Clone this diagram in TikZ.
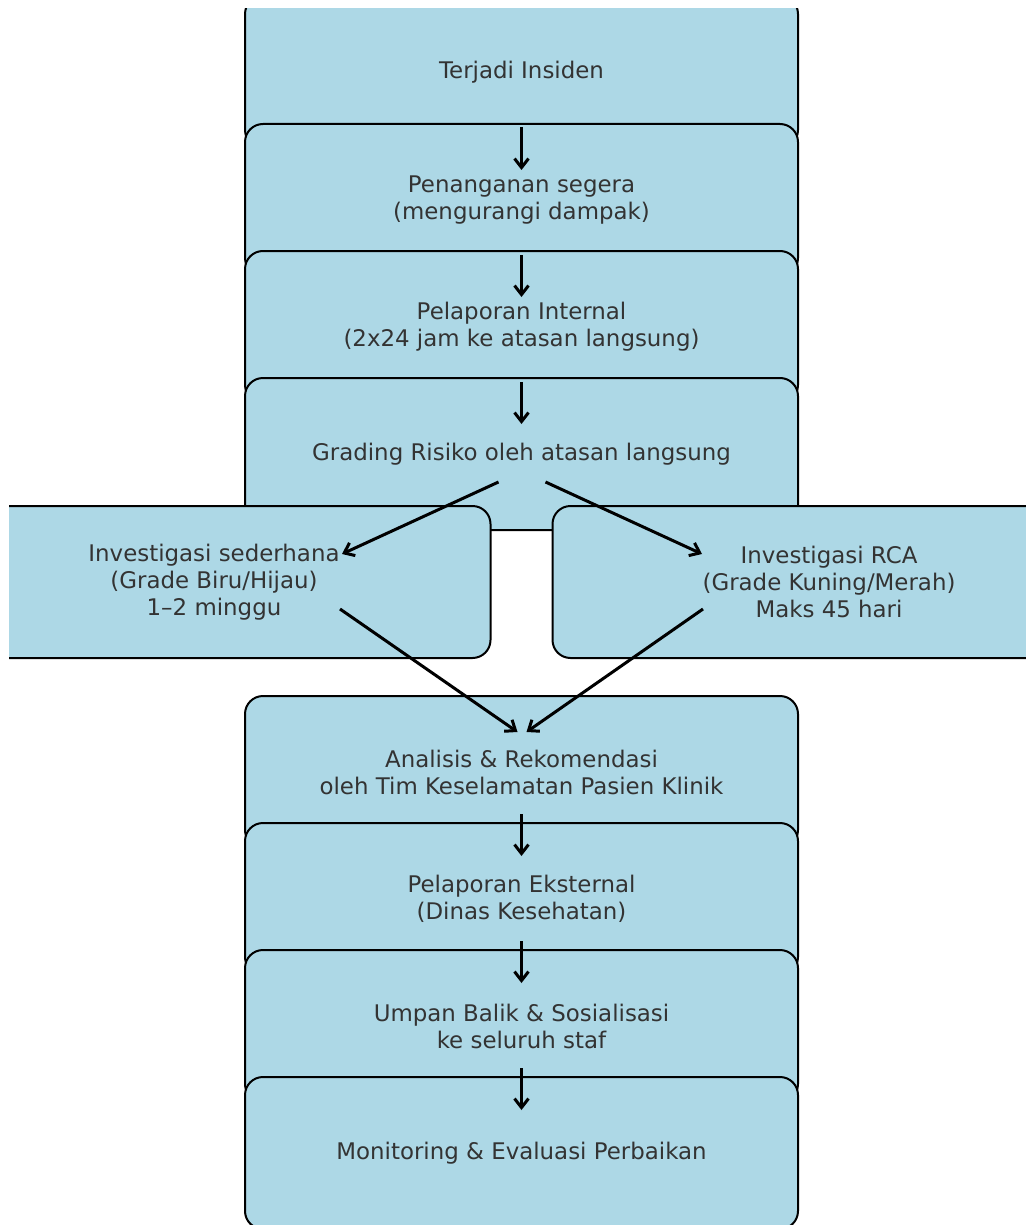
\documentclass[tikz,border=0pt]{standalone}
\usepackage{fontspec}
\setmainfont{DejaVu Sans}
\usetikzlibrary{arrows.meta}
\definecolor{lb}{HTML}{ADD8E6}
\definecolor{tx}{HTML}{333333}
\tikzset{
  box/.style={draw=black, line width=2pt, fill=lb, rounded corners=18pt,
    minimum width=553pt, minimum height=152pt, inner sep=0pt, align=center,
    text=tx, font=\fontsize{22.9}{27}\selectfont},
  arr/.style={draw=black, line width=3pt,
    -{Straight Barb[length=9pt,width=14pt,line width=3pt]}}
}
\begin{document}
\begin{tikzpicture}[x=1pt,y=-1pt]
\useasboundingbox (0,0) rectangle (1025,1225);
\begin{scope}
\clip (9,9) rectangle (1030,1230);
\node[box] (n1) at (521.5,72) {Terjadi Insiden};
\node[box] (n2) at (521.5,200) {Penanganan segera\\(mengurangi dampak)};
\node[box] (n3) at (521.5,327) {Pelaporan Internal\\(2x24 jam ke atasan langsung)};
\node[box] (n4) at (521.5,454) {Grading Risiko oleh atasan langsung};
\node[box] (l) at (214,582) {Investigasi sederhana\\(Grade Biru/Hijau)\\1–2 minggu};
\node[box] (r) at (829,582) {Investigasi RCA\\(Grade Kuning/Merah)\\Maks 45 hari};
\node[box] (n5) at (521.5,772) {Analisis \& Rekomendasi\\oleh Tim Keselamatan Pasien Klinik};
\node[box] (n6) at (521.5,899) {Pelaporan Eksternal\\(Dinas Kesehatan)};
\node[box] (n7) at (521.5,1026) {Umpan Balik \& Sosialisasi\\ke seluruh staf};
\node[box] (n8) at (521.5,1153) {Monitoring \& Evaluasi Perbaikan};
\end{scope}
\draw[arr] ([yshift=-55pt]n1.center) -- ([yshift=30pt]n2.center);
\draw[arr] ([yshift=-55pt]n2.center) -- ([yshift=30pt]n3.center);
\draw[arr] ([yshift=-55pt]n3.center) -- ([yshift=30pt]n4.center);
\draw[arr] ([xshift=-23pt,yshift=-28pt]n4.center) -- ([xshift=128pt,yshift=28pt]l.center);
\draw[arr] ([xshift=24pt,yshift=-28pt]n4.center) -- ([xshift=-127pt,yshift=28pt]r.center);
\draw[arr] ([xshift=126pt,yshift=-27pt]l.center) -- ([xshift=-4pt,yshift=40pt]n5.center);
\draw[arr] ([xshift=-126pt,yshift=-27pt]r.center) -- ([xshift=5pt,yshift=40pt]n5.center);
\draw[arr] ([yshift=-42pt]n5.center) -- ([yshift=43pt]n6.center);
\draw[arr] ([yshift=-42pt]n6.center) -- ([yshift=43pt]n7.center);
\draw[arr] ([yshift=-42pt]n7.center) -- ([yshift=43pt]n8.center);
\end{tikzpicture}
\end{document}
